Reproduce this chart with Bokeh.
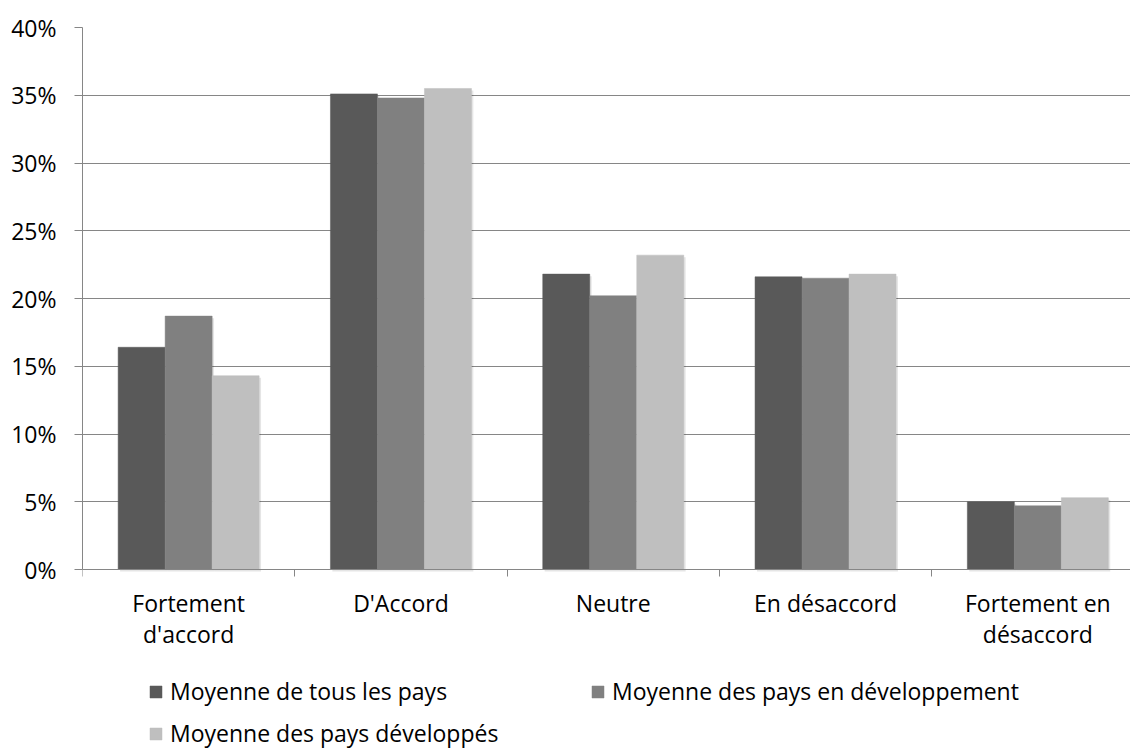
from bokeh.plotting import figure
from bokeh.models import (Range1d, FixedTicker, PrintfTickFormatter, Legend, LegendItem,
                          ColumnDataSource)
from bokeh.embed import file_html
from bokeh.resources import INLINE

categories = ["Fortement\nd'accord", "D'Accord", "Neutre", "En désaccord", "Fortement en\ndésaccord"]
series_names = ["Moyenne de tous les pays", "Moyenne des pays en développement",
                "Moyenne des pays développés"]
all_countries = [16.4, 35.1, 21.8, 21.6, 5.0]
developing = [18.7, 34.8, 20.2, 21.5, 4.7]
developed = [14.3, 35.5, 23.2, 21.8, 5.3]
y_ticks = [0, 5, 10, 15, 20, 25, 30, 35, 40]

colors = ["#595959", "#808080", "#bfbfbf"]
FONT = "Open Sans"
FS = "23px"
GRID = "#868686"

W, H = 1130, 749
LEFT, TOP, ZERO_Y = 82, 27, 569
CAT_PX = 212.3
px_per_unit = (ZERO_Y - TOP) / 40.0
y_bottom = -(H - ZERO_Y) / px_per_unit
x_end = (W - LEFT) / CAT_PX

n = len(categories)
centers = [i + 0.5 for i in range(n)]
bw = 0.2214
offsets = [-bw, 0.0, bw]

p = figure(width=W, height=H, output_backend="svg", toolbar_location=None,
           x_range=Range1d(0, x_end), y_range=Range1d(y_bottom, 40),
           min_border_left=LEFT, min_border_right=0, min_border_top=TOP, min_border_bottom=0)
p.outline_line_color = None
p.background_fill_color = "white"
p.border_fill_color = "white"

renderers = []
for vals, off, col in zip([all_countries, developing, developed], offsets, colors):
    xs = [c + off for c in centers]
    src = ColumnDataSource(dict(x=xs, top=vals))
    sh = ColumnDataSource(dict(x=[x + 0.009 for x in xs], top=[v - 0.15 for v in vals]))
    p.vbar(x="x", top="top", bottom=-0.15, width=bw, source=sh, fill_color="#000000",
           fill_alpha=0.10, line_color=None)
    r = p.vbar(x="x", top="top", bottom=0, width=bw, source=src, fill_color=col,
               line_color=col, line_width=0.5)
    renderers.append(r)

xa = p.xaxis[0]
xa.fixed_location = 0
xa.ticker = FixedTicker(ticks=centers, minor_ticks=list(range(n + 1)))
xa.major_label_overrides = {c: lab for c, lab in zip(centers, categories)}
xa.major_tick_line_color = None
xa.major_tick_out = 0
xa.major_tick_in = 0
xa.minor_tick_line_color = GRID
xa.minor_tick_out = 7
xa.minor_tick_in = 0
xa.axis_line_color = GRID
xa.major_label_standoff = 10
xa.major_label_text_font = FONT
xa.major_label_text_font_size = FS
xa.major_label_text_color = "#000000"
xa.major_label_text_line_height = 0.98

ya = p.yaxis[0]
ya.bounds = (0, 40)
ya.ticker = FixedTicker(ticks=y_ticks)
ya.formatter = PrintfTickFormatter(format="%d%%")
ya.axis_line_color = GRID
ya.major_tick_line_color = GRID
ya.major_tick_out = 8
ya.major_tick_in = 0
ya.minor_tick_line_color = None
ya.major_label_standoff = 18
ya.major_label_text_font = FONT
ya.major_label_text_font_size = FS
ya.major_label_text_color = "#000000"

p.xgrid.grid_line_color = None
p.ygrid.grid_line_color = GRID
p.ygrid.ticker = FixedTicker(ticks=y_ticks)

common = dict(orientation="horizontal", glyph_width=15, glyph_height=15, label_standoff=7,
              label_text_font=FONT, label_text_font_size=FS, label_text_color="#000000",
              border_line_color=None, background_fill_alpha=0, padding=0, margin=0,
              label_height=20, spacing=0)
items = [LegendItem(label=nm, renderers=[r]) for nm, r in zip(series_names, renderers)]
legend_a = Legend(items=items[:2], location=(66, 42), label_width=420, **common)
legend_b = Legend(items=items[2:], location=(66, 0), **common)
p.add_layout(legend_a, "center")
p.add_layout(legend_b, "center")

open("out.html", "w").write(file_html(p, INLINE))
